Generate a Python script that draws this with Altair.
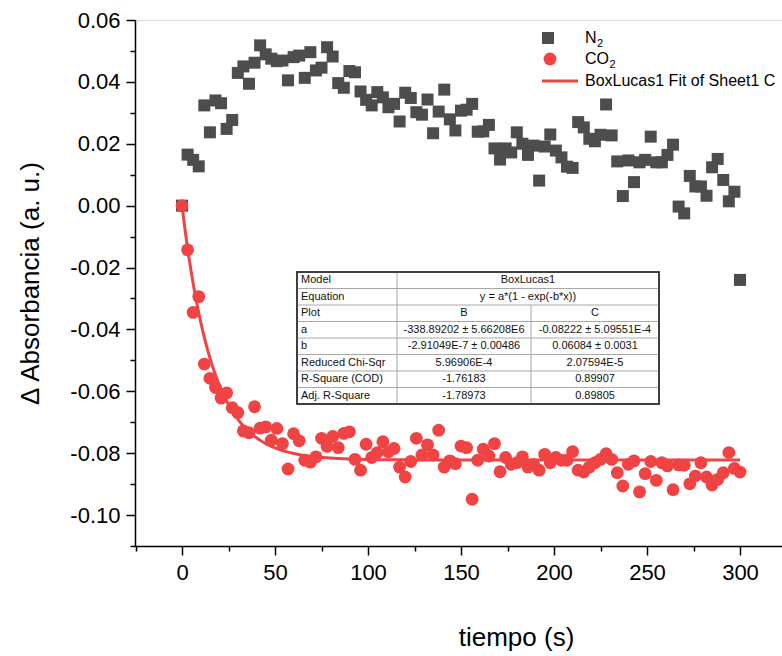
import altair as alt
import pandas as pd

# ---------------- data ----------------
t_n2 = list(range(0, 301, 3))
n2 = [0.0, 0.0165, 0.0148, 0.0127, 0.0324, 0.0237, 0.034, 0.0331, 0.0248, 0.0277,
      0.0429, 0.045, 0.0394, 0.0462, 0.0518, 0.0489, 0.0475, 0.0467, 0.0469, 0.0405,
      0.048, 0.0485, 0.0413, 0.0496, 0.0437, 0.0446, 0.0512, 0.0482, 0.0396, 0.0381,
      0.0435, 0.0431, 0.0369, 0.0342, 0.0324, 0.0367, 0.035, 0.0318, 0.0329, 0.0272,
      0.0365, 0.0348, 0.0302, 0.0294, 0.0343, 0.0234, 0.0304, 0.0375, 0.0279, 0.0243,
      0.0307, 0.031, 0.0329, 0.0239, 0.024, 0.0261, 0.0185, 0.0149, 0.0185, 0.0172,
      0.0237, 0.02, 0.0164, 0.0194, 0.0081, 0.0191, 0.023, 0.0178, 0.0156, 0.0126,
      0.0122, 0.027, 0.0253, 0.0216, 0.0208, 0.0229, 0.0327, 0.0227, 0.0143, 0.0031,
      0.0146, 0.0076, 0.014, 0.0148, 0.0223, 0.014, 0.014, 0.0164, 0.0197, -0.0003,
      -0.0025, 0.0096, 0.0062, 0.0062, 0.0032, 0.0124, 0.0151, 0.0083, 0.0014, 0.0045,
      -0.024]

t_co2 = list(range(0, 301, 3))
co2 = [0.0, -0.0143, -0.0345, -0.0294, -0.0512, -0.0558, -0.0588, -0.0622, -0.0605, -0.0653,
       -0.0669, -0.0728, -0.0734, -0.065, -0.0719, -0.0715, -0.0758, -0.072, -0.0769, -0.0851,
       -0.0737, -0.076, -0.0823, -0.0829, -0.0812, -0.0752, -0.0778, -0.0746, -0.0782, -0.0736,
       -0.0731, -0.082, -0.0855, -0.0771, -0.0814, -0.0798, -0.0763, -0.0795, -0.0785, -0.0845,
       -0.0877, -0.0827, -0.0752, -0.0806, -0.0773, -0.0806, -0.0726, -0.0845, -0.0825, -0.0834,
       -0.0777, -0.0782, -0.0949, -0.0823, -0.0787, -0.0809, -0.0769, -0.086, -0.0814, -0.0836,
       -0.0831, -0.0812, -0.0845, -0.0836, -0.0855, -0.0804, -0.0831, -0.0814, -0.0823, -0.0823,
       -0.0795, -0.0855, -0.0861, -0.0845, -0.0831, -0.082, -0.0802, -0.082, -0.0863, -0.0906,
       -0.0836, -0.0825, -0.0925, -0.0866, -0.0827, -0.0888, -0.0831, -0.0841, -0.0918, -0.0838,
       -0.0839, -0.0899, -0.0874, -0.0831, -0.0877, -0.0903, -0.0885, -0.0863, -0.0798, -0.0849,
       -0.0861]

# BoxLucas1 fit parameters (from the table)
FIT_A = -0.08222
FIT_B = 0.06084

x_ticks = [0, 50, 100, 150, 200, 250, 300]
x_minor = [-25, 25, 75, 125, 175, 225, 275, 325]
y_ticks = [-0.1, -0.08, -0.06, -0.04, -0.02, 0.0, 0.02, 0.04, 0.06]
y_minor = [-0.11, -0.09, -0.07, -0.05, -0.03, -0.01, 0.01, 0.03, 0.05]

legend_labels = ["N", "CO", "BoxLucas1 Fit of Sheet1 C"]
legend_sub = "2"

table_labels = ["Model", "Equation", "Plot", "a", "b", "Reduced Chi-Sqr",
                "R-Square (COD)", "Adj. R-Square"]
table_B = ["BoxLucas1", "y = a*(1 - exp(-b*x))", "B", "-338.89202 ± 5.66208E6",
           "-2.91049E-7 ± 0.00486", "5.96906E-4", "-1.76183", "-1.78973"]
table_C = ["", "", "C", "-0.08222 ± 5.09551E-4", "0.06084 ± 0.0031",
           "2.07594E-5", "0.89907", "0.89805"]

# ---------------- style / layout ----------------
GRAY = "#4d4d4d"
RED = "#f04343"
FONT = "Liberation Sans"
W, H = 647, 526
X_DOM = [-25.27, 322.58]
Y_DOM = [-0.11, 0.06]

df_n2 = pd.DataFrame({"t": t_n2, "v": n2})
df_co2 = pd.DataFrame({"t": t_co2, "v": co2})

MINUS_FIX = "replace(format(datum.value, '.2f'), '\u2212', '-')"

xs = alt.Scale(domain=X_DOM, nice=False, zero=False)
ys = alt.Scale(domain=Y_DOM, nice=False, zero=False)

x_major_axis = alt.Axis(values=x_ticks, tickSize=9, tickWidth=1.5, tickColor="black",
                        domainColor="black", domainWidth=1.5, grid=False,
                        labelFont=FONT, labelFontSize=22, labelColor="black",
                        labelPadding=7, labelFlush=False, labelOverlap=False,
                        title="tiempo (s)", titleFont=FONT, titleFontSize=26,
                        titleFontWeight="normal", titleColor="black",
                        titleX=381, titleY=99, titleAlign="center",
                        titleBaseline="alphabetic", orient="bottom")
x_minor_axis = alt.Axis(values=x_minor, tickSize=5, tickWidth=1.5, tickColor="black",
                        domain=False, labels=False, grid=False, title=None,
                        orient="bottom")
y_major_axis = alt.Axis(values=y_ticks, tickSize=9, tickWidth=1.5, tickColor="black",
                        domainColor="black", domainWidth=1.5, grid=False,
                        labelExpr=MINUS_FIX,
                        labelFont=FONT, labelFontSize=22, labelColor="black",
                        labelPadding=6, labelFlush=False, labelOverlap=False,
                        title="Δ Absorbancia (a. u.)", titleFont=FONT, titleFontSize=26,
                        titleFontWeight="normal", titleColor="black",
                        titleX=-105, titleY=263, titleAlign="center",
                        titleBaseline="middle", titleAngle=270, orient="left")
y_minor_axis = alt.Axis(values=y_minor, tickSize=5, tickWidth=1.5, tickColor="black",
                        domain=False, labels=False, grid=False, title=None,
                        orient="left")

n2_layer = alt.Chart(df_n2).mark_point(shape="square", filled=True, size=144,
                                       opacity=1, color=GRAY).encode(
    x=alt.X("t:Q", scale=xs, axis=x_major_axis),
    y=alt.Y("v:Q", scale=ys, axis=y_major_axis),
)
minor_layer = alt.Chart(df_n2).mark_point(opacity=0).encode(
    x=alt.X("t:Q", scale=xs, axis=x_minor_axis),
    y=alt.Y("v:Q", scale=ys, axis=y_minor_axis),
)
co2_layer = alt.Chart(df_co2).mark_point(shape="circle", filled=True, size=165,
                                         opacity=1, color=RED).encode(
    x=alt.X("t:Q", scale=xs, axis=None),
    y=alt.Y("v:Q", scale=ys, axis=None),
)
fit_layer = alt.Chart(alt.sequence(0, 300.5, 1, as_="t")).transform_calculate(
    v=f"{FIT_A} * (1 - exp(-{FIT_B} * datum.t))"
).mark_line(color=RED, strokeWidth=3).encode(
    x=alt.X("t:Q", scale=xs, axis=None),
    y=alt.Y("v:Q", scale=ys, axis=None),
)

# ---------------- legend (manual, top right) ----------------
LX_SYM, LX_TXT = 413, 450
LY = [18, 39, 61]
leg_sq = alt.Chart(df_n2.head(1)).mark_point(shape="square", filled=True, size=144,
                                             opacity=1, color=GRAY).encode(
    x=alt.value(LX_SYM), y=alt.value(LY[0]))
leg_ci = alt.Chart(df_n2.head(1)).mark_point(shape="circle", filled=True, size=165,
                                             opacity=1, color=RED).encode(
    x=alt.value(LX_SYM + 2), y=alt.value(LY[1]))
leg_ln = alt.Chart(df_n2.head(1)).mark_rule(color=RED, strokeWidth=3).encode(
    x=alt.value(LX_SYM - 6), x2=alt.value(LX_SYM + 30), y=alt.value(LY[2]))
leg_txt = []
for lab, yy in zip(legend_labels, LY):
    leg_txt.append(alt.Chart(df_n2.head(1)).mark_text(
        text=lab, font=FONT, fontSize=16, align="left", baseline="middle",
        color="black").encode(x=alt.value(LX_TXT), y=alt.value(yy)))
sub_offsets = [0.722 * 16, (0.722 + 0.778) * 16]
for off, yy in zip(sub_offsets, LY[:2]):
    leg_txt.append(alt.Chart(df_n2.head(1)).mark_text(
        text=legend_sub, font=FONT, fontSize=11, align="left", baseline="middle",
        color="black").encode(x=alt.value(LX_TXT + off + 0.5), y=alt.value(yy + 6)))

# ---------------- fit-results table ----------------
TL, TR, TT = 162, 524, 252
ROW = 16.5
C1, C2 = 262, 396
NROW = len(table_labels)
TB = TT + NROW * ROW

cells = []
for i, (lab, b, c) in enumerate(zip(table_labels, table_B, table_C)):
    yy = TT + (i + 0.5) * ROW
    cells.append({"px": TL + 4, "py": yy, "txt": lab, "al": "left"})
    if c == "":
        cells.append({"px": (C1 + TR) / 2, "py": yy, "txt": b, "al": "center"})
    else:
        cells.append({"px": (C1 + C2) / 2, "py": yy, "txt": b, "al": "center"})
        cells.append({"px": (C2 + TR) / 2, "py": yy, "txt": c, "al": "center"})
df_cells = pd.DataFrame(cells)

lines = []
for i in range(1, NROW):
    lines.append({"x1": TL, "x2": TR, "y1": TT + i * ROW, "y2": TT + i * ROW})
lines.append({"x1": C1, "x2": C1, "y1": TT, "y2": TB})
lines.append({"x1": C2, "x2": C2, "y1": TT + 2 * ROW, "y2": TB})
df_lines = pd.DataFrame(lines)

tbl_bg = alt.Chart(df_n2.head(1)).mark_rect(fill="white", stroke="#333333",
                                            strokeWidth=1.5).encode(
    x=alt.value(TL), x2=alt.value(TR), y=alt.value(TT), y2=alt.value(TB))
tbl_lines = alt.Chart(df_lines).mark_rule(color="#a8a8a8", strokeWidth=1).encode(
    x=alt.X("x1:Q", scale=None), x2="x2:Q",
    y=alt.Y("y1:Q", scale=None), y2="y2:Q")
tbl_border = alt.Chart(df_n2.head(1)).mark_rect(fill=None, stroke="#333333",
                                                strokeWidth=1.5).encode(
    x=alt.value(TL), x2=alt.value(TR), y=alt.value(TT), y2=alt.value(TB))
tbl_left = alt.Chart(df_cells[df_cells["al"] == "left"]).mark_text(
    font=FONT, fontSize=11, align="left", baseline="middle", color="#111111").encode(
    x=alt.X("px:Q", scale=None), y=alt.Y("py:Q", scale=None), text="txt:N")
tbl_center = alt.Chart(df_cells[df_cells["al"] == "center"]).mark_text(
    font=FONT, fontSize=11, align="center", baseline="middle", color="#111111").encode(
    x=alt.X("px:Q", scale=None), y=alt.Y("py:Q", scale=None), text="txt:N")

chart = alt.layer(
    n2_layer, minor_layer, co2_layer, fit_layer,
    tbl_bg, tbl_lines, tbl_border, tbl_left, tbl_center,
    leg_sq, leg_ci, leg_ln, *leg_txt,
).resolve_axis(x="independent", y="independent").properties(
    width=W, height=H,
    autosize=alt.AutoSizeParams(type="none"),
    padding={"left": 135, "top": 20, "right": 0, "bottom": 110},
).configure_view(stroke=None).configure(background="white")

chart.save("out.html", embed_options={"renderer": "svg", "actions": False})
